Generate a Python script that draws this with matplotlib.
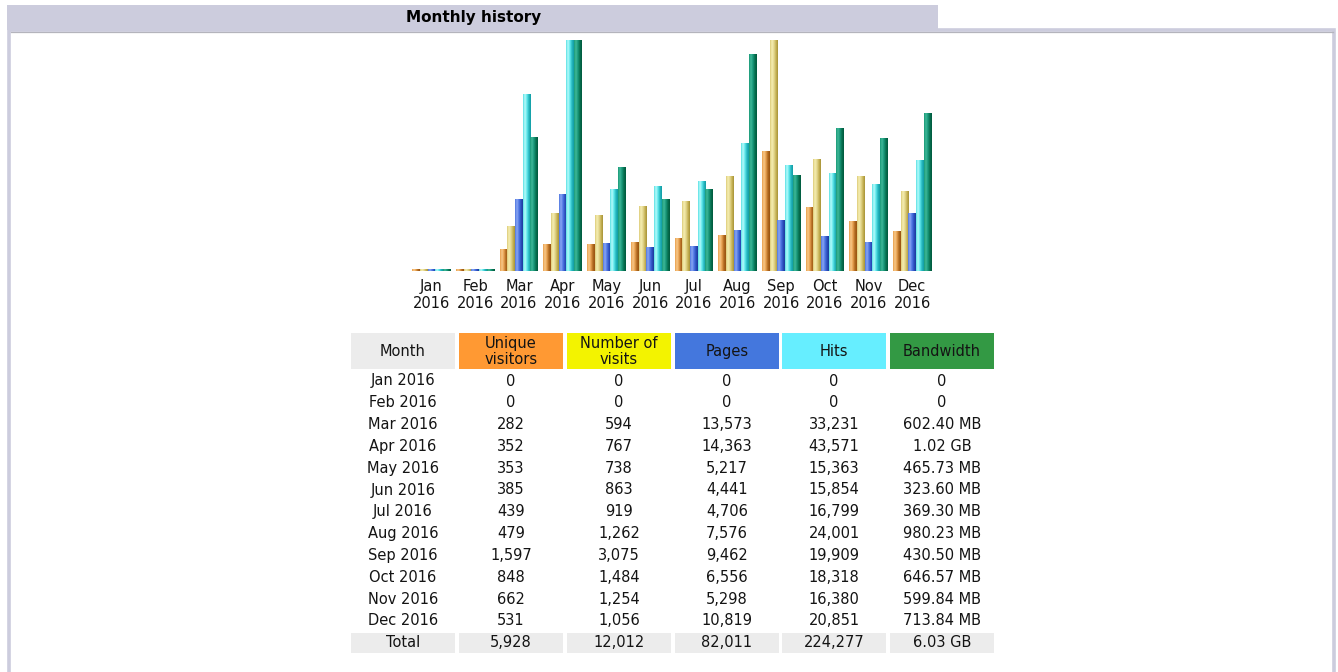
import matplotlib
matplotlib.use('Agg')
import matplotlib.pyplot as plt
import numpy as np
from matplotlib.colors import LinearSegmentedColormap
from matplotlib.patches import Rectangle

plt.rcParams['font.family'] = ['DejaVu Sans']

# data
months = ['Jan', 'Feb', 'Mar', 'Apr', 'May', 'Jun',
          'Jul', 'Aug', 'Sep', 'Oct', 'Nov', 'Dec']
year = '2016'
visitors = [0, 0, 282, 352, 353, 385, 439, 479, 1597, 848, 662, 531]
visits = [0, 0, 594, 767, 738, 863, 919, 1262, 3075, 1484, 1254, 1056]
pages = [0, 0, 13573, 14363, 5217, 4441, 4706, 7576, 9462, 6556, 5298, 10819]
hits = [0, 0, 33231, 43571, 15363, 15854, 16799, 24001, 19909, 18318, 16380, 20851]
bandwidth_mb = [0, 0, 602.40, 1044.48, 465.73, 323.60, 369.30, 980.23,
                430.50, 646.57, 599.84, 713.84]

headers = ['Month', 'Unique\nvisitors', 'Number of\nvisits', 'Pages', 'Hits', 'Bandwidth']
header_colors = ['#ececec', '#ff9933', '#f3f300', '#4477dd', '#66eeff', '#339944']

# cylinder-like shading for each series, left to right
shades = [
    ['#e9a04e', '#f8c98a', '#e8a050', '#b06a20', '#9a5210'],
    ['#ddcc7a', '#f6efb2', '#e4d890', '#c8b458', '#a89438'],
    ['#5078e0', '#8aa6f4', '#5078e4', '#2c50c0', '#1c3a9c'],
    ['#5ae0e4', '#b8fcfc', '#60e8ec', '#28b8c0', '#109ca4'],
    ['#1a9a78', '#40b898', '#18987a', '#087050', '#005a3e'],
]


def fmt_bw(v):
    if v == 0:
        return '0'
    if v >= 1024:
        return '%.2f GB' % (v / 1024)
    return '%.2f MB' % v


W, H = 1338, 672
fig = plt.figure(figsize=(W / 100, H / 100), dpi=100)
fs = 10.5
tc = '#141414'

# background layer in pixel coordinates for the frame and the table
bg = fig.add_axes([0, 0, 1, 1])
bg.set_xlim(0, W)
bg.set_ylim(H, 0)
bg.axis('off')

frame_col = '#ccccdd'
bg.add_patch(Rectangle((7, 5), 931, 25, facecolor=frame_col, edgecolor='none'))
bg.add_patch(Rectangle((9, 30), 1325, 660, facecolor='white', edgecolor=frame_col, lw=2.6))
bg.plot([11, 1333], [31.5, 31.5], color='#b4b4bc', lw=0.9)
bg.text(474, 17.5, 'Monthly history', ha='center', va='center',
        fontsize=11, fontweight='bold', color='#000000')

# bar chart
ax = fig.add_axes([409.7 / W, (H - 271) / H, 524.4 / W, 231 / H])
x = np.arange(len(months))
bw = 0.176

vmax = max(visits)
hmax = max(hits)
bmax = max(bandwidth_mb)
series = [
    [v / vmax for v in visitors],
    [v / vmax for v in visits],
    [v / hmax for v in pages],
    [v / hmax for v in hits],
    [v / bmax for v in bandwidth_mb],
]

grad = np.linspace(0, 1, 40).reshape(1, -1)
for k, vals in enumerate(series):
    cmap = LinearSegmentedColormap.from_list('s%d' % k, shades[k])
    heights = [max(v, 0.006) for v in vals]
    bars = ax.bar(x + (k - 2) * bw, heights, width=bw, color='none', edgecolor='none')
    for p in bars:
        x0 = p.get_x()
        ax.imshow(grad, cmap=cmap, extent=(x0, x0 + p.get_width(), 0, p.get_height()),
                  aspect='auto', interpolation='bilinear', zorder=2)

ax.set_xlim(-0.5, 11.5)
ax.set_ylim(0, 1)
ax.set_xticks(x)
ax.set_xticklabels(['%s\n%s' % (m, year) for m in months], fontsize=fs,
                   color=tc, linespacing=1.15)
ax.tick_params(axis='x', length=0, pad=6)
ax.set_yticks([])
for s in ax.spines.values():
    s.set_visible(False)
ax.patch.set_alpha(0)

# table
col_left = [351, 459, 567, 675, 782, 890]
col_w = 104
for cl, txt, c in zip(col_left, headers, header_colors):
    bg.add_patch(Rectangle((cl, 333), col_w, 36, facecolor=c, edgecolor='none'))
    bg.text(cl + col_w / 2, 351.5, txt, ha='center', va='center', fontsize=fs,
            color=tc, linespacing=1.05)

row_y0 = 381
row_dy = 21.8
for i, m in enumerate(months):
    y = row_y0 + i * row_dy
    cells = ['%s %s' % (m, year), '{:,}'.format(visitors[i]), '{:,}'.format(visits[i]),
             '{:,}'.format(pages[i]), '{:,}'.format(hits[i]), fmt_bw(bandwidth_mb[i])]
    for cl, txt in zip(col_left, cells):
        bg.text(cl + col_w / 2, y, txt, ha='center', va='center', fontsize=fs, color=tc)

ty = row_y0 + len(months) * row_dy
totals = ['Total', '{:,}'.format(sum(visitors)), '{:,}'.format(sum(visits)),
          '{:,}'.format(sum(pages)), '{:,}'.format(sum(hits)), fmt_bw(sum(bandwidth_mb))]
for cl, txt in zip(col_left, totals):
    bg.add_patch(Rectangle((cl, ty - 10), col_w, 20, facecolor='#ececec', edgecolor='none'))
    bg.text(cl + col_w / 2, ty, txt, ha='center', va='center', fontsize=fs, color=tc)

fig.savefig('out.png', dpi=100)
